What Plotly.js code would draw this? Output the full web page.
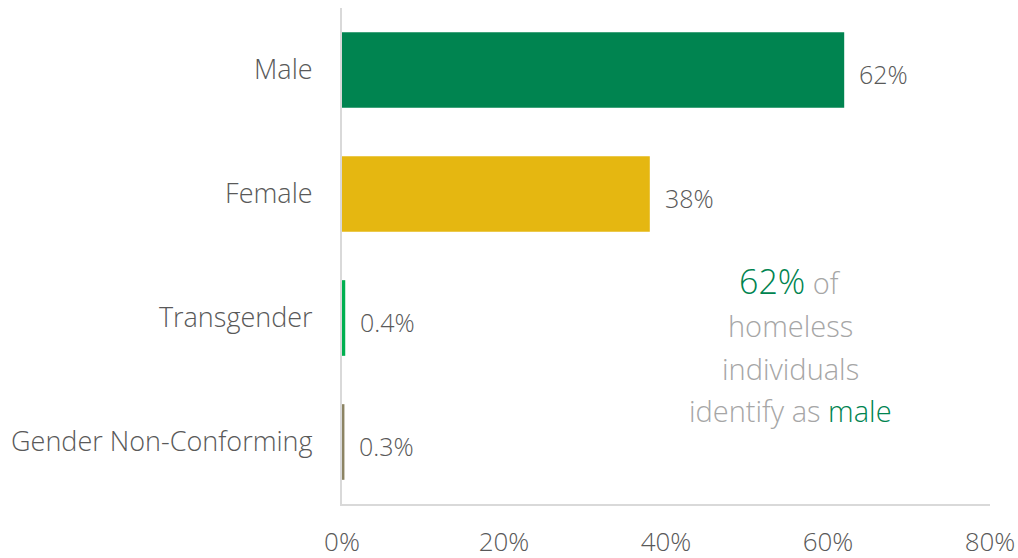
<!DOCTYPE html>
<html>
<head>
<meta charset="utf-8">
<script src="https://cdn.plot.ly/plotly-3.0.1.min.js"></script>
<style>html,body{margin:0;padding:0;background:#fff;}#chart{width:1018px;height:558px;}</style>
</head>
<body>
<div id="chart"></div>
<script>
const categories = ["Male", "Female", "Transgender", "Gender Non-Conforming"];
const values = [62, 38, 0.4, 0.3];
const valueLabels = ["62%", "38%", "0.4%", "0.3%"];
const barColors = ["#008450", "#E5B711", "#00B050", "#8C8463"];
const tickVals = [0, 20, 40, 60, 80];
const tickText = ["0%", "20%", "40%", "60%", "80%"];

const FONT = "'Open Sans', sans-serif";
const GRAY = "#595959";

const trace = {
  type: "bar",
  orientation: "h",
  y: categories,
  x: values,
  marker: { color: barColors, line: { width: 0 } },
  width: 0.61,
  hoverinfo: "skip"
};

const annotations = categories.map((c, i) => ({
  x: values[i], y: c, xref: "x", yref: "y",
  text: valueLabels[i], showarrow: false,
  xanchor: "left", yanchor: "middle", xshift: 13, yshift: -4,
  font: { family: FONT, size: 25, color: GRAY, weight: 300 }
}));

const calloutLines = [
  "<span style='color:#008450;font-size:34px'>62%</span> of",
  "homeless",
  "individuals",
  "identify as <span style='color:#008450'>male</span>"
];
const calloutY = [281, 325, 368, 410];
calloutLines.forEach((t, i) => {
  annotations.push({
    xref: "paper", yref: "paper",
    x: (790 - 342) / 648, y: (504 - calloutY[i]) / 496,
    text: t, showarrow: false, xanchor: "center", yanchor: "middle",
    font: { family: FONT, size: 29, color: "#A6A6A6", weight: 300 }
  });
});

const layout = {
  width: 1018, height: 558,
  margin: { l: 342, r: 28, t: 8, b: 54, pad: 0 },
  paper_bgcolor: "#fff", plot_bgcolor: "#fff",
  showlegend: false,
  bargap: 0.39,
  xaxis: {
    range: [0, 80], tickvals: tickVals, ticktext: tickText,
    showgrid: false, zeroline: false,
    showline: true, linecolor: "#D9D9D9", linewidth: 2,
    ticks: "", ticklabelstandoff: 14,
    tickfont: { family: FONT, size: 26, color: GRAY, weight: 300 },
    fixedrange: true
  },
  yaxis: {
    type: "category", autorange: "reversed",
    showgrid: false, zeroline: false,
    showline: true, linecolor: "#D9D9D9", linewidth: 2,
    ticks: "", ticklabelstandoff: 22,
    tickfont: { family: FONT, size: 27, color: GRAY, weight: 300 },
    fixedrange: true
  },
  annotations: annotations
};

Plotly.newPlot("chart", [trace], layout, { displayModeBar: false, staticPlot: true });
</script>
</body>
</html>
